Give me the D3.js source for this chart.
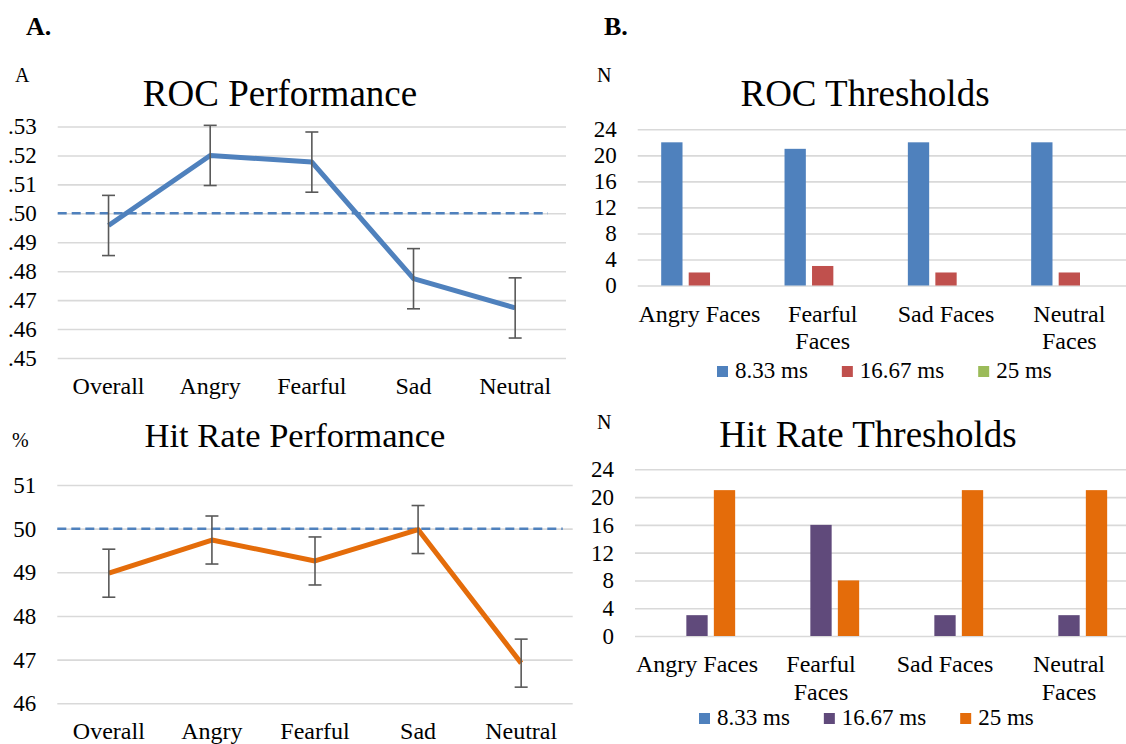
<!DOCTYPE html>
<html>
<head>
<meta charset="utf-8">
<script src="https://cdn.jsdelivr.net/npm/d3@7"></script>
<style>
  body { margin: 0; background: #fff; }
  svg { display: block; font-family: "Liberation Serif", "Times New Roman", serif; }
  .grid line { stroke: #d9d9d9; stroke-width: 1.6; }
  .grid path { display: none; }
  .axis path, .axis line { display: none; }
  .axis text { fill: #000; }
</style>
</head>
<body>
<svg id="chart" width="1126" height="744"></svg>
<script>
// Panel A: performance by emotion
const perfCategories = ["Overall", "Angry", "Fearful", "Sad", "Neutral"];
const rocValues = [0.4958, 0.5200, 0.5177, 0.4774, 0.4673];
const rocErrors = [0.0104, 0.0104, 0.0104, 0.0104, 0.0104];
const rocTicks = [0.45, 0.46, 0.47, 0.48, 0.49, 0.50, 0.51, 0.52, 0.53];
const rocChance = 0.50;

const hitValues = [48.98, 49.74, 49.26, 49.98, 46.92];
const hitErrors = [0.55, 0.55, 0.55, 0.55, 0.55];
const hitTicks = [46, 47, 48, 49, 50, 51];
const hitChance = 50;

// Panel B: thresholds (counts of participants)
const faceCategories = ["Angry Faces", "Fearful Faces", "Sad Faces", "Neutral Faces"];
const faceLabelLines = [["Angry Faces"], ["Fearful", "Faces"], ["Sad Faces"], ["Neutral", "Faces"]];
const durations = ["8.33 ms", "16.67 ms", "25 ms"];
const rocThr833 = [22, 21, 22, 22];
const rocThr1667 = [2, 3, 2, 2];
const rocThr25 = [0, 0, 0, 0];
const hitThr833 = [0, 0, 0, 0];
const hitThr1667 = [3, 16, 3, 3];
const hitThr25 = [21, 8, 21, 21];
const countTicks = [0, 4, 8, 12, 16, 20, 24];

const FONT = "Liberation Serif, Times New Roman, serif";
const svg = d3.select("#chart");

function addText(x, y, str, size, opts = {}) {
  return svg.append("text")
    .attr("x", x).attr("y", y)
    .attr("font-family", FONT)
    .attr("font-size", size)
    .attr("font-weight", opts.bold ? "bold" : null)
    .attr("text-anchor", opts.anchor || "start")
    .text(str);
}

// d3 axes default to 10px sans-serif, reset to the serif look of the original
function serifAxis(sel, size) {
  sel.attr("font-family", FONT).attr("font-size", size);
  sel.selectAll("text").attr("font-family", FONT).attr("font-size", size);
  return sel;
}

function lineChart(cfg) {
  const x = d3.scaleBand().domain(perfCategories).range(cfg.xRange);
  const y = d3.scaleLinear().domain(d3.extent(cfg.ticks)).range(cfg.yRange);
  const left = cfg.xRange[0], right = cfg.xRange[1];
  const g = svg.append("g");

  g.append("g").attr("class", "grid")
    .attr("transform", `translate(${left},0)`)
    .call(d3.axisLeft(y).tickValues(cfg.ticks).tickSize(-(right - left)).tickFormat(""));

  serifAxis(g.append("g").attr("class", "axis")
    .attr("transform", `translate(${left},0)`)
    .call(d3.axisLeft(y).tickValues(cfg.ticks).tickSize(0).tickPadding(21).tickFormat(cfg.format)), 23);

  serifAxis(g.append("g").attr("class", "axis")
    .attr("transform", `translate(0,${cfg.yRange[0]})`)
    .call(d3.axisBottom(x).tickSize(0).tickPadding(19)), 24);

  // chance level
  g.append("line")
    .attr("x1", left).attr("x2", right - cfg.dashTrim)
    .attr("y1", y(cfg.chance)).attr("y2", y(cfg.chance))
    .attr("stroke", "#4f81bd").attr("stroke-width", 2.5)
    .attr("stroke-dasharray", "9,5");

  const cx = d => x(d) + x.bandwidth() / 2;
  const line = d3.line().x((d, i) => cx(perfCategories[i])).y(d => y(d));
  g.append("path").datum(cfg.values)
    .attr("fill", "none").attr("stroke", cfg.color)
    .attr("stroke-width", 5).attr("stroke-linejoin", "round")
    .attr("d", line);

  const eb = g.append("g").attr("stroke", "#595959").attr("stroke-width", 1.6);
  cfg.values.forEach((v, i) => {
    const px = cx(perfCategories[i]);
    const hi = y(v + cfg.errors[i]), lo = y(v - cfg.errors[i]);
    eb.append("line").attr("x1", px).attr("x2", px).attr("y1", hi).attr("y2", lo);
    eb.append("line").attr("x1", px - 6.5).attr("x2", px + 6.5).attr("y1", hi).attr("y2", hi);
    eb.append("line").attr("x1", px - 6.5).attr("x2", px + 6.5).attr("y1", lo).attr("y2", lo);
  });

  addText(cfg.titleX, cfg.titleY, cfg.title, cfg.titleSize, { anchor: "middle" });
  addText(cfg.unitX, cfg.unitY, cfg.unit, 20);
}

function barChart(cfg) {
  const x0 = d3.scaleBand().domain(faceCategories).range(cfg.xRange);
  const x1 = d3.scaleBand().domain(durations).range([-44.35, 44.35]).padding(0.225);
  const y = d3.scaleLinear().domain([0, 24]).range(cfg.yRange);
  const left = cfg.xRange[0];
  const g = svg.append("g");

  g.append("g").attr("class", "grid")
    .attr("transform", `translate(${left},0)`)
    .call(d3.axisLeft(y).tickValues(countTicks).tickSize(-(1126 - left)).tickFormat(""));

  serifAxis(g.append("g").attr("class", "axis")
    .attr("transform", `translate(${left},0)`)
    .call(d3.axisLeft(y).tickValues(countTicks).tickSize(0).tickPadding(21)), 23);

  const xAxis = serifAxis(g.append("g").attr("class", "axis")
    .attr("transform", `translate(0,${cfg.yRange[0]})`)
    .call(d3.axisBottom(x0).tickSize(0).tickPadding(19)), 24);
  xAxis.selectAll(".tick text").each(function (d, i) {
    const t = d3.select(this).text(null);
    faceLabelLines[i].forEach((s, k) => {
      t.append("tspan").attr("x", 0).attr("dy", k === 0 ? "0.71em" : "1.15em").text(s);
    });
  }).attr("dy", null);

  const color = d3.scaleOrdinal().domain(durations).range(cfg.colors);
  const rows = faceCategories.map((c, i) => ({ cat: c, vals: cfg.series.map((s, k) => ({ key: durations[k], v: s[i] })) }));
  g.selectAll(".grp").data(rows).join("g")
    .attr("transform", d => `translate(${x0(d.cat) + x0.bandwidth() / 2},0)`)
    .selectAll("rect").data(d => d.vals.filter(e => e.v > 0)).join("rect")
    .attr("x", d => x1(d.key)).attr("width", x1.bandwidth())
    .attr("y", d => y(d.v)).attr("height", d => y(0) - y(d.v))
    .attr("fill", d => color(d.key));

  // legend
  let lx = cfg.legendX;
  durations.forEach((d, k) => {
    svg.append("rect").attr("x", lx).attr("y", cfg.legendY - 11)
      .attr("width", 11).attr("height", 11).attr("fill", color(d));
    const t = addText(lx + 18, cfg.legendY + 1, d, 23);
    lx += 18 + t.node().getComputedTextLength() + 34;
  });

  addText(cfg.titleX, cfg.titleY, cfg.title, 37, { anchor: "middle" });
  addText(cfg.unitX, cfg.unitY, "N", 20);
}

addText(26, 35, "A.", 26, { bold: true });
addText(604, 35, "B.", 26, { bold: true });

lineChart({
  xRange: [57.7, 566], yRange: [358, 126.5], ticks: rocTicks,
  format: d => d3.format(".2f")(d).replace(/^0/, ""),
  values: rocValues, errors: rocErrors, chance: rocChance, dashTrim: 18,
  color: "#4f81bd", title: "ROC Performance", titleSize: 37, titleX: 280, titleY: 106,
  unit: "A", unitX: 15, unitY: 82
});

lineChart({
  xRange: [57.3, 572.7], yRange: [703.3, 485], ticks: hitTicks,
  format: d3.format("d"),
  values: hitValues, errors: hitErrors, chance: hitChance, dashTrim: 10,
  color: "#e46c0a", title: "Hit Rate Performance", titleSize: 34.5, titleX: 295, titleY: 447,
  unit: "%", unitX: 12, unitY: 447
});

barChart({
  xRange: [637.7, 1131], yRange: [285.5, 129.3],
  series: [rocThr833, rocThr1667, rocThr25],
  colors: ["#4f81bd", "#c0504d", "#9bbb59"],
  legendX: 717, legendY: 377,
  title: "ROC Thresholds", titleX: 865, titleY: 106, unitX: 597, unitY: 82
});

barChart({
  xRange: [635, 1131], yRange: [636, 469.3],
  series: [hitThr833, hitThr1667, hitThr25],
  colors: ["#4f81bd", "#604a7b", "#e46c0a"],
  legendX: 699, legendY: 724,
  title: "Hit Rate Thresholds", titleX: 868, titleY: 447, unitX: 597, unitY: 429
});
</script>
</body>
</html>
